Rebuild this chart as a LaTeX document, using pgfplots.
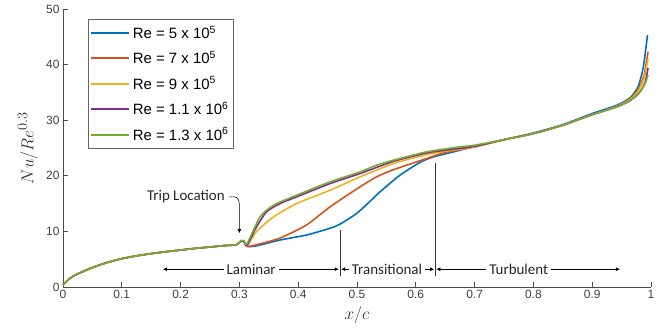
\documentclass[border=0pt]{standalone}
\usepackage{pgfplots}
\pgfplotsset{compat=1.18}
\usepackage{fontspec}
\setmainfont{Liberation Sans}
\newfontfamily\annfont{Carlito}
\usetikzlibrary{arrows.meta}
\definecolor{c1}{rgb}{0,0.447,0.741}
\definecolor{c2}{rgb}{0.85,0.325,0.098}
\definecolor{c3}{rgb}{0.929,0.694,0.125}
\definecolor{c4}{rgb}{0.494,0.184,0.556}
\definecolor{c5}{rgb}{0.466,0.674,0.188}
\begin{document}
\begin{tikzpicture}
\path[use as bounding box] (-63bp,-49bp) rectangle (601bp,287bp);
\begin{axis}[
  scale only axis, width=588bp, height=278bp,
  xmin=0, xmax=1, ymin=0, ymax=50,
  axis x line*=bottom, axis y line*=left,
  axis line style={black!70, line width=0.8pt},
  xtick={0,0.1,...,1}, ytick={0,10,...,50},
  xticklabels={0,0.1,0.2,0.3,0.4,0.5,0.6,0.7,0.8,0.9,1},
  tick align=inside, major tick length=5bp,
  tick style={black!70, line width=0.8pt},
  ticklabel style={font=\fontsize{12}{14}\selectfont, text=black!75},
  /pgf/number format/assume math mode=true,
  xlabel={$x/c$}, ylabel={$Nu/Re^{0.3}$},
  label style={font=\fontsize{19}{22}\selectfont, text=black!80},
  x label style={at={(axis description cs:0.5,-0.1)}, anchor=center},
  y label style={at={(axis description cs:-0.06,0.5)}, anchor=center},
  legend style={at={(rel axis cs:0.0425,0.964)}, anchor=north west,
    draw=black!60, line width=0.8pt,
    nodes={font=\fontsize{15}{17}\selectfont, inner sep=2.5bp},
    inner xsep=2bp, inner ysep=4bp, row sep=6.5bp},
  legend cell align=left,
  legend image code/.code={\draw[#1, line width=2pt] (0bp,0bp) -- (38bp,0bp);},
  every axis plot/.append style={line width=1.6pt, smooth, tension=0.4},
  clip=false,
]
% Re = 5e5
\addplot[c1] coordinates {(0,0.4) (0.01,1.4) (0.02,2.1) (0.03,2.6) (0.05,3.5) (0.075,4.4) (0.1,5.1) (0.125,5.6) (0.15,6.0) (0.175,6.35) (0.2,6.65) (0.225,6.95) (0.25,7.2) (0.275,7.45) (0.295,7.6) (0.303,8.3) (0.308,8.1) (0.313,7.3) (0.329,7.4) (0.369,8.45) (0.414,9.35) (0.454,10.55) (0.471,11.3) (0.499,13.2) (0.52,15.2) (0.539,17.1) (0.573,20.1) (0.607,22.4) (0.63,23.4) (0.675,24.6) (0.7,25.3) (0.75,26.5) (0.8,27.7) (0.85,29.2) (0.9,31.2) (0.942,32.7) (0.964,34.0) (0.978,36.0) (0.987,39.6) (0.994,45.3)};
% Re = 7e5
\addplot[c2] coordinates {(0,0.4) (0.01,1.4) (0.02,2.1) (0.03,2.6) (0.05,3.5) (0.075,4.4) (0.1,5.1) (0.125,5.6) (0.15,6.0) (0.175,6.35) (0.2,6.65) (0.225,6.95) (0.25,7.2) (0.275,7.45) (0.295,7.6) (0.303,8.3) (0.308,8.1) (0.313,7.3) (0.329,7.6) (0.369,8.8) (0.414,11.15) (0.454,14.4) (0.499,17.6) (0.533,19.8) (0.562,21.1) (0.618,23.1) (0.65,24.2) (0.7,25.2) (0.75,26.5) (0.8,27.6) (0.85,29.1) (0.9,31.0) (0.942,32.5) (0.964,33.8) (0.978,35.5) (0.988,38.0) (0.995,42.3)};
% Re = 9e5
\addplot[c3] coordinates {(0,0.4) (0.01,1.4) (0.02,2.1) (0.03,2.6) (0.05,3.5) (0.075,4.4) (0.1,5.1) (0.125,5.6) (0.15,6.0) (0.175,6.35) (0.2,6.65) (0.225,6.95) (0.25,7.2) (0.275,7.45) (0.295,7.6) (0.303,8.3) (0.308,8.1) (0.313,7.4) (0.329,9.95) (0.358,12.6) (0.397,15.0) (0.454,17.4) (0.505,19.8) (0.562,22.2) (0.618,23.8) (0.65,24.4) (0.7,25.2) (0.75,26.5) (0.8,27.6) (0.85,29.1) (0.9,31.0) (0.942,32.5) (0.964,33.7) (0.978,35.2) (0.988,37.5) (0.995,41.0)};
% Re = 1.1e6
\addplot[c4] coordinates {(0,0.4) (0.01,1.4) (0.02,2.1) (0.03,2.6) (0.05,3.5) (0.075,4.4) (0.1,5.1) (0.125,5.6) (0.15,6.0) (0.175,6.35) (0.2,6.65) (0.225,6.95) (0.25,7.2) (0.275,7.45) (0.295,7.6) (0.303,8.3) (0.308,8.1) (0.313,7.5) (0.329,10.8) (0.346,13.5) (0.369,15.0) (0.397,16.2) (0.454,18.6) (0.505,20.4) (0.562,22.6) (0.618,24.1) (0.65,24.6) (0.7,25.3) (0.75,26.5) (0.8,27.6) (0.85,29.1) (0.9,31.0) (0.942,32.4) (0.964,33.5) (0.98,34.9) (0.99,36.8) (0.995,39.4)};
% Re = 1.3e6
\addplot[c5] coordinates {(0,0.4) (0.01,1.4) (0.02,2.1) (0.03,2.6) (0.05,3.5) (0.075,4.4) (0.1,5.1) (0.125,5.6) (0.15,6.0) (0.175,6.35) (0.2,6.65) (0.225,6.95) (0.25,7.2) (0.275,7.45) (0.295,7.6) (0.303,8.4) (0.308,8.3) (0.313,7.8) (0.335,12.6) (0.358,14.7) (0.397,16.5) (0.454,18.9) (0.505,20.7) (0.533,21.9) (0.562,22.8) (0.618,24.3) (0.675,25.2) (0.7,25.5) (0.76,26.7) (0.8,27.6) (0.85,29.1) (0.9,31.0) (0.942,32.4) (0.964,33.5) (0.981,35.1) (0.99,36.6) (0.995,38.1)};
\legend{Re = 5 x 10\textsuperscript{5}, Re = 7 x 10\textsuperscript{5}, Re = 9 x 10\textsuperscript{5}, Re = 1.1 x 10\textsuperscript{6}, Re = 1.3 x 10\textsuperscript{6}}
% annotations
\draw[black!80, line width=0.8pt] (axis cs:0.471,2.0) -- (axis cs:0.471,10.3);
\draw[black!80, line width=0.8pt] (axis cs:0.633,2.0) -- (axis cs:0.633,22.3);
\draw[black, line width=0.6pt, {Latex[length=4bp,width=4bp]}-{Latex[length=4bp,width=4bp]}] (axis cs:0.17,3.2) -- (axis cs:0.469,3.2);
\draw[black, line width=0.6pt, {Latex[length=4bp,width=4bp]}-{Latex[length=4bp,width=4bp]}] (axis cs:0.473,3.2) -- (axis cs:0.631,3.2);
\draw[black, line width=0.6pt, {Latex[length=4bp,width=4bp]}-{Latex[length=4bp,width=4bp]}] (axis cs:0.635,3.2) -- (axis cs:0.947,3.2);
\node[fill=white, inner xsep=3bp, inner ysep=1bp, font=\annfont\fontsize{15}{17}\selectfont, text=black!85] at (axis cs:0.32,3.2) {Laminar};
\node[fill=white, inner xsep=3bp, inner ysep=1bp, font=\annfont\fontsize{15}{17}\selectfont, text=black!85] at (axis cs:0.551,3.2) {Transitional};
\node[fill=white, inner xsep=3bp, inner ysep=1bp, font=\annfont\fontsize{15}{17}\selectfont, text=black!85] at (axis cs:0.775,3.2) {Turbulent};
\node[anchor=east, inner sep=1bp, font=\annfont\fontsize{15}{17}\selectfont, text=black!85] at (axis cs:0.277,16.2) {Trip Location};
\draw[black, line width=0.6pt, -{Latex[length=4bp,width=4bp]}] (axis cs:0.282,16.2) -- (axis cs:0.292,16.2) to[out=0,in=90] (axis cs:0.300,14.3) -- (axis cs:0.300,9.7);
\end{axis}
\end{tikzpicture}
\end{document}
